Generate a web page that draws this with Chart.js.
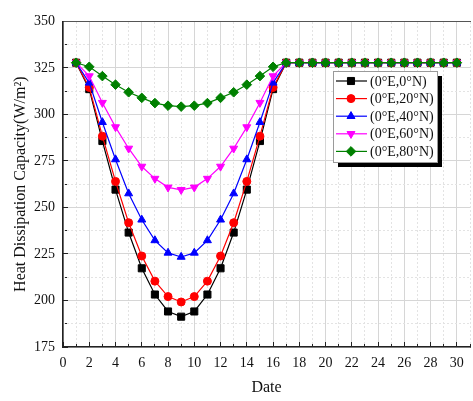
<!DOCTYPE html>
<html>
<head>
  <title>Heat Dissipation Capacity</title>
  <script src="https://cdn.jsdelivr.net/npm/chart.js"></script>
  <style>
    html, body {
      margin: 0;
      padding: 0;
      background: #fff;
      overflow: hidden;
    }
    #wrap {
      position: relative;
      width: 483px;
      height: 401px;
    }
  </style>
</head>
<body>
  <div id="wrap">
    <canvas id="chartCanvas"></canvas>
  </div>

  <script>
    // day of month
    const dates = [1, 2, 3, 4, 5, 6, 7, 8, 9, 10, 11, 12, 13, 14, 15, 16, 17, 18, 19, 20, 21, 22, 23, 24, 25, 26, 27, 28, 29, 30];

    const seriesNames = ['(0°E,0°N)', '(0°E,20°N)', '(0°E,40°N)', '(0°E,60°N)', '(0°E,80°N)'];

    const lat0 = [327.8, 313.6, 285.7, 259.6, 236.5, 217.3, 203.2, 194.1, 191.3, 194.1, 203.2, 217.3, 236.5, 259.6, 285.7, 313.6, 327.8,
      327.8, 327.8, 327.8, 327.8, 327.8, 327.8, 327.8, 327.8, 327.8, 327.8, 327.8, 327.8, 327.8];
    const lat20 = [327.8, 314.5, 288.3, 264.0, 241.8, 223.9, 210.4, 202.1, 199.2, 202.1, 210.4, 223.9, 241.8, 264.0, 288.3, 314.5, 327.8,
      327.8, 327.8, 327.8, 327.8, 327.8, 327.8, 327.8, 327.8, 327.8, 327.8, 327.8, 327.8, 327.8];
    const lat40 = [327.8, 317.0, 295.8, 275.8, 257.5, 243.4, 232.3, 225.6, 223.4, 225.6, 232.3, 243.4, 257.5, 275.8, 295.8, 317.0, 327.8,
      327.8, 327.8, 327.8, 327.8, 327.8, 327.8, 327.8, 327.8, 327.8, 327.8, 327.8, 327.8, 327.8];
    const lat60 = [327.8, 320.6, 306.3, 293.2, 281.7, 272.0, 265.5, 260.8, 259.5, 260.8, 265.5, 272.0, 281.7, 293.2, 306.3, 320.6, 327.8,
      327.8, 327.8, 327.8, 327.8, 327.8, 327.8, 327.8, 327.8, 327.8, 327.8, 327.8, 327.8, 327.8];
    const lat80 = [327.8, 325.6, 320.6, 316.0, 311.9, 308.9, 306.1, 304.7, 304.2, 304.7, 306.1, 308.9, 311.9, 316.0, 320.6, 325.6, 327.8,
      327.8, 327.8, 327.8, 327.8, 327.8, 327.8, 327.8, 327.8, 327.8, 327.8, 327.8, 327.8, 327.8];

    const seriesValues = [lat0, lat20, lat40, lat60, lat80];
    const seriesColors = ['#000000', '#ff0000', '#0000ff', '#ff00ff', '#008000'];
    const seriesMarkers = ['rect', 'circle', 'triangle', 'triangle', 'rectRot'];
    const markerRotation = [0, 0, 0, 180, 0];
    const markerRadius = [5, 4, 4.6, 4.6, 4.8];

    const serif = '"Liberation Serif", "Times New Roman", serif';
    Chart.defaults.font.family = serif;
    Chart.defaults.color = '#111';

    // legend drawn as a framed box with a hard shadow, like the original figure
    const boxLegend = {
      id: 'boxLegend',
      afterDatasetsDraw(chart) {
        const ctx = chart.ctx;
        const x = 333, y = 71, w = 104, h = 91;
        const drawPoint = Chart.helpers && Chart.helpers.drawPoint;
        ctx.save();
        ctx.fillStyle = '#000';
        ctx.fillRect(x + 5, y + 5, w, h);
        ctx.fillStyle = '#fff';
        ctx.fillRect(x, y, w, h);
        ctx.strokeStyle = '#9a9a9a';
        ctx.lineWidth = 1;
        ctx.strokeRect(x + 0.5, y + 0.5, w, h);

        ctx.font = '14px ' + serif;
        ctx.textBaseline = 'middle';
        ctx.textAlign = 'left';
        chart.data.datasets.forEach(function(ds, i) {
          const cy = y + 10 + i * 17.6;
          ctx.strokeStyle = ds.borderColor;
          ctx.lineWidth = 1.2;
          ctx.beginPath();
          ctx.moveTo(x + 3, cy);
          ctx.lineTo(x + 34, cy);
          ctx.stroke();
          if (drawPoint) {
            ctx.fillStyle = ds.backgroundColor;
            ctx.strokeStyle = ds.borderColor;
            ctx.lineWidth = 1;
            drawPoint(ctx, {
              pointStyle: ds.pointStyle,
              rotation: ds.pointRotation,
              radius: ds.pointRadius,
              borderWidth: 1
            }, x + 18, cy);
          }
          ctx.fillStyle = '#111';
          ctx.fillText(ds.label, x + 37, cy + 1);
        });
        ctx.restore();
      }
    };

    const datasets = seriesNames.map(function(name, i) {
      return {
        label: name,
        data: seriesValues[i],
        borderColor: seriesColors[i],
        backgroundColor: seriesColors[i],
        borderWidth: 1.2,
        pointStyle: seriesMarkers[i],
        pointRotation: markerRotation[i],
        pointRadius: markerRadius[i],
        pointBorderWidth: 1,
        tension: 0,
        order: seriesNames.length - i
      };
    });

    const majorGrid = '#d6d6d6';
    const minorGrid = '#e3e3e3';

    new Chart(document.getElementById('chartCanvas'), {
      type: 'line',
      data: {
        labels: dates,
        datasets: datasets
      },
      options: {
        responsive: true,
        maintainAspectRatio: false,
        animation: false,
        layout: {
          padding: { top: 11, right: 0, bottom: 0, left: 0 }
        },
        plugins: {
          legend: { display: false },
          tooltip: { enabled: false }
        },
        scales: {
          x: {
            type: 'linear',
            position: 'bottom',
            min: 0,
            max: 31,
            afterFit: function(scale) { scale.height = 54; },
            ticks: {
              stepSize: 1,
              autoSkip: false,
              maxRotation: 0,
              padding: 13,
              font: { size: 14 },
              callback: function(v) { return v % 2 === 0 ? String(v) : ''; }
            },
            grid: {
              color: function(c) { return c.tick && c.tick.value % 2 === 0 ? majorGrid : 'rgba(0,0,0,0)'; },
              tickColor: '#222',
              tickLength: -5,
              lineWidth: 1
            },
            border: { color: '#222', width: 1.6 },
            title: {
              display: true,
              text: 'Date',
              font: { size: 16 },
              padding: { top: 4, bottom: 4 }
            }
          },
          xMinor: {
            type: 'linear',
            position: 'top',
            min: 0,
            max: 31,
            afterFit: function(scale) { scale.height = 0; },
            ticks: { display: false, stepSize: 1, autoSkip: false },
            grid: {
              drawTicks: false,
              color: function(c) { return c.tick && c.tick.value % 2 === 1 ? minorGrid : 'rgba(0,0,0,0)'; }
            },
            border: { color: '#555', width: 1, dash: [2, 2] }
          },
          y: {
            type: 'linear',
            position: 'left',
            min: 175,
            max: 350,
            afterFit: function(scale) { scale.width = 63; },
            ticks: {
              stepSize: 12.5,
              autoSkip: false,
              padding: 13,
              font: { size: 14 },
              callback: function(v) { return v % 25 === 0 ? String(v) : ''; }
            },
            grid: {
              color: function(c) { return c.tick && c.tick.value % 25 === 0 ? majorGrid : 'rgba(0,0,0,0)'; },
              tickColor: '#222',
              tickLength: -5,
              lineWidth: 1
            },
            border: { color: '#222', width: 1.6 },
            title: {
              display: true,
              text: 'Heat Dissipation Capacity(W/m²)',
              font: { size: 16 },
              padding: { top: 11, bottom: 4 }
            }
          },
          yMinor: {
            type: 'linear',
            position: 'right',
            min: 175,
            max: 350,
            afterFit: function(scale) { scale.width = 0; },
            ticks: { display: false, stepSize: 12.5, autoSkip: false },
            grid: {
              drawTicks: false,
              color: function(c) { return c.tick && c.tick.value % 25 !== 0 ? minorGrid : 'rgba(0,0,0,0)'; }
            },
            border: { display: false, dash: [2, 2] }
          }
        }
      },
      plugins: [boxLegend]
    });
  </script>
</body>
</html>
